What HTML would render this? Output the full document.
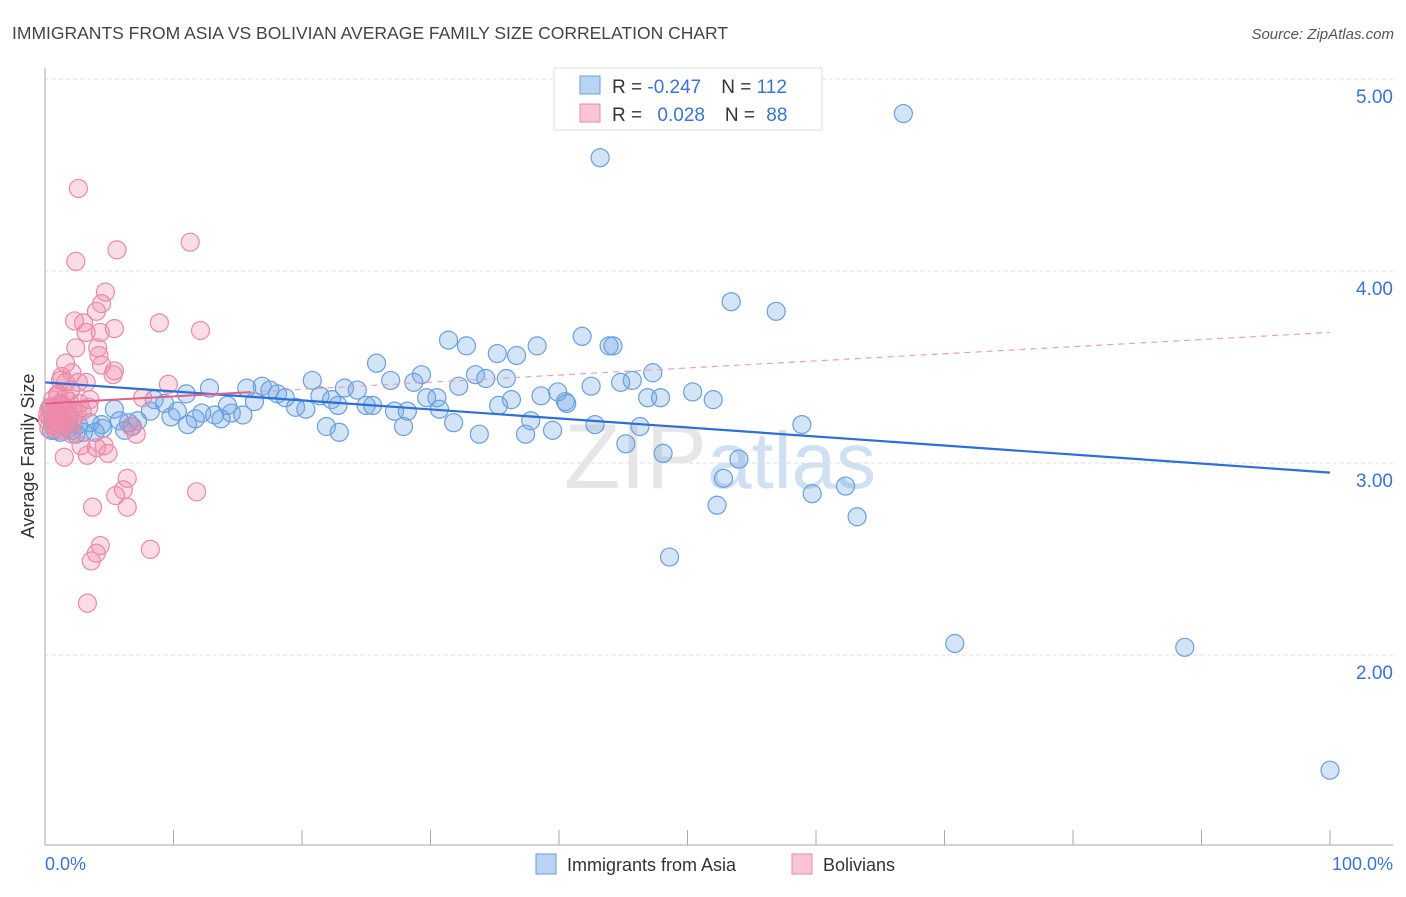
<!DOCTYPE html>
<html><head><meta charset="utf-8"><style>
body{margin:0;background:#fff;font-family:"Liberation Sans",sans-serif;}
svg text{font-family:"Liberation Sans",sans-serif;}
</style></head><body>
<svg width="1406" height="892" viewBox="0 0 1406 892">
<text x="12" y="39" font-size="17.5" fill="#444">IMMIGRANTS FROM ASIA VS BOLIVIAN AVERAGE FAMILY SIZE CORRELATION CHART</text>
<text x="1394" y="39" font-size="15" fill="#555" text-anchor="end" font-style="italic">Source: ZipAtlas.com</text>
<g id="grid"></g>
<text x="720" y="488" font-size="92" fill="#e6e6e6" text-anchor="middle" font-family="Liberation Serif">ZIP<tspan fill="#cfe0f3" font-family="Liberation Sans" font-size="80">atlas</tspan></text>
<g id="pts"></g>
<g id="lines"></g>
<g id="axes"></g>
<text transform="translate(34,456) rotate(-90)" font-size="18" fill="#333" text-anchor="middle">Average Family Size</text>
<text x="45" y="870" font-size="18" fill="#3a74d0">0.0%</text>
<text x="1393" y="870" font-size="18" fill="#3a74d0" text-anchor="end">100.0%</text>
<g>
<rect x="554" y="68" width="268" height="62" fill="#fff" stroke="#ddd"/>
<rect x="580" y="76" width="20" height="18" fill="#b8d3f3" stroke="#6a9fdf"/>
<rect x="580" y="104" width="20" height="18" fill="#f9c4d4" stroke="#ea8aa8"/>
<text x="612" y="93" font-size="19" fill="#333">R = <tspan fill="#3a74d0">-0.247</tspan><tspan dx="20">N = </tspan><tspan fill="#3a74d0">112</tspan></text>
<text x="612" y="121" font-size="19" fill="#333">R = <tspan fill="#3a74d0" dx="10">0.028</tspan><tspan dx="20">N = </tspan><tspan fill="#3a74d0" dx="6">88</tspan></text>
</g>
<g>
<rect x="536" y="854" width="20" height="20" fill="#b8d3f3" stroke="#6a9fdf"/>
<text x="567" y="871" font-size="18" fill="#333">Immigrants from Asia</text>
<rect x="792" y="854" width="20" height="20" fill="#f9c4d4" stroke="#ea8aa8"/>
<text x="823" y="871" font-size="18" fill="#333">Bolivians</text>
</g>
</svg>
<script>
const yTicks=[2,3,4,5];
const yTickLabels=["2.00","3.00","4.00","5.00"];
const asiaX=[66.8,43.2,53.4,56.9,31.4,32.8,41.8,43.9,44.2,38.3,35.2,36.7,25.8,33.5,29.3,47.3,34.3,35.9,45.7,44.8,20.8,26.9,28.7,32.2,42.5,16.9,12.8,15.7,17.5,11.0,23.3,24.3,50.4,39.9,18.1,18.7,21.4,22.3,29.7,30.5,36.3,38.6,40.5,46.9,47.9,52.0,8.5,9.3,16.3,40.6,22.8,25.0,25.5,14.2,19.5,20.3,27.2,28.2,30.7,35.3,5.4,8.2,10.3,12.2,13.2,14.5,15.4,13.7,11.7,7.2,5.8,3.5,4.4,2.6,1.6,4.5,6.8,11.1,31.8,37.8,42.8,58.9,21.9,27.9,46.3,2.1,3.0,6.2,39.5,1.2,0.8,3.9,22.9,33.8,37.4,45.2,48.1,54.0,52.8,59.7,62.3,52.3,63.2,48.6,70.8,88.7,100,1.8,2.4,0.5,9.8,6.5];
const asiaY=[4.82,4.59,3.84,3.79,3.64,3.61,3.66,3.61,3.61,3.61,3.57,3.56,3.52,3.46,3.46,3.47,3.44,3.44,3.43,3.42,3.43,3.43,3.42,3.40,3.40,3.40,3.39,3.39,3.38,3.36,3.39,3.38,3.37,3.37,3.36,3.34,3.35,3.33,3.34,3.34,3.33,3.35,3.32,3.34,3.34,3.33,3.33,3.31,3.32,3.31,3.30,3.30,3.30,3.30,3.29,3.28,3.27,3.27,3.28,3.30,3.28,3.27,3.27,3.26,3.25,3.26,3.25,3.23,3.23,3.22,3.22,3.21,3.20,3.20,3.19,3.18,3.19,3.20,3.21,3.22,3.20,3.20,3.19,3.19,3.19,3.17,3.16,3.17,3.17,3.16,3.17,3.16,3.16,3.15,3.15,3.10,3.05,3.02,2.92,2.84,2.88,2.78,2.72,2.51,2.06,2.04,1.40,3.18,3.15,3.17,3.24,3.21];
const bolX=[2.6,11.3,5.6,2.4,4.7,4.4,4.0,2.3,3.0,8.9,5.4,3.2,12.1,4.3,2.4,4.1,4.2,1.6,4.4,5.4,2.1,1.3,1.2,2.6,3.2,5.3,9.6,2.0,1.0,7.6,1.6,0.6,3.5,1.2,0.4,1.8,2.2,0.9,0.2,1.5,0.6,1.1,1.9,2.1,6.7,7.1,2.8,4.6,4.0,4.9,3.3,1.5,6.4,6.1,5.5,11.8,3.7,6.4,4.3,4.0,8.2,3.6,3.3,0.5,1.0,1.4,0.3,0.8,1.7,2.5,0.7,1.2,0.4,2.9,1.9,0.9,1.3,0.2,2.2,3.4,1.0,0.6,1.6,2.7,0.3,1.1,1.8,0.5];
const bolY=[4.43,4.15,4.11,4.05,3.89,3.83,3.79,3.74,3.73,3.73,3.70,3.68,3.69,3.68,3.60,3.60,3.56,3.52,3.51,3.48,3.47,3.45,3.43,3.42,3.42,3.46,3.41,3.38,3.36,3.34,3.34,3.33,3.33,3.30,3.29,3.28,3.27,3.25,3.22,3.22,3.20,3.18,3.20,3.15,3.19,3.15,3.09,3.09,3.08,3.05,3.04,3.03,2.92,2.86,2.83,2.85,2.77,2.77,2.57,2.53,2.55,2.49,2.27,3.26,3.24,3.30,3.28,3.21,3.23,3.26,3.19,3.31,3.24,3.27,3.32,3.27,3.17,3.25,3.22,3.29,3.35,3.23,3.42,3.31,3.18,3.21,3.25,3.29];
const asiaTrend=[3.42,2.95];
const bolTrend=[3.31,3.68];
const NS="http://www.w3.org/2000/svg";
const X0=45,X1=1330;
function sx(p){return X0+(X1-X0)*p/100;}
function sy(v){return 463-(v-3)*192;}
function mk(tag,attrs,parent){const e=document.createElementNS(NS,tag);for(const k in attrs)e.setAttribute(k,attrs[k]);parent.appendChild(e);return e;}
const grid=document.getElementById('grid'),axes=document.getElementById('axes'),pts=document.getElementById('pts'),lines=document.getElementById('lines');
yTicks.forEach((t,i)=>{
  const l=mk('line',{x1:45,x2:1393,y1:sy(t),y2:sy(t),stroke:'#ddd','stroke-dasharray':'4,3'},grid);
  
  
  const tx=mk('text',{x:1393,y:sy(t)+24,'font-size':19,fill:'#3a74d0','text-anchor':'end'},grid);
  tx.textContent=yTickLabels[i];
  
  
});
const ax=mk('line',{x1:45,x2:45,y1:68,y2:845,stroke:'#aaa'},axes);


const bx=mk('line',{x1:45,x2:1393,y1:845,y2:845,stroke:'#aaa'},axes);


for(let i=1;i<=10;i++){
  const t=mk('line',{x1:sx(i*10),x2:sx(i*10),y1:830,y2:845,stroke:'#aaa'},axes);
  
  
}
asiaX.forEach((x,i)=>{
  const c=mk('circle',{cx:sx(x),cy:sy(asiaY[i]),r:9,fill:'rgba(110,165,230,0.3)',stroke:'#6a9fdf','stroke-width':1.2},pts);
  
  
});
bolX.forEach((x,i)=>{
  const c=mk('circle',{cx:sx(x),cy:sy(bolY[i]),r:9,fill:'rgba(240,140,170,0.3)',stroke:'#ea8aa8','stroke-width':1.2},pts);
  
  
});
const la=mk('line',{x1:sx(0),y1:sy(asiaTrend[0]),x2:sx(100),y2:sy(asiaTrend[1]),stroke:'#2d6fd6','stroke-width':2.2},lines);


const f=p=>bolTrend[0]+(bolTrend[1]-bolTrend[0])*p/100;
const lb1=mk('line',{x1:sx(0),y1:sy(f(0)),x2:sx(16),y2:sy(f(16)),stroke:'#e0608a','stroke-width':2},lines);


const lb2=mk('line',{x1:sx(16),y1:sy(f(16)),x2:sx(100),y2:sy(f(100)),stroke:'#e8a0b8','stroke-width':1.2,'stroke-dasharray':'6,5'},lines);


</script>
</body></html>
